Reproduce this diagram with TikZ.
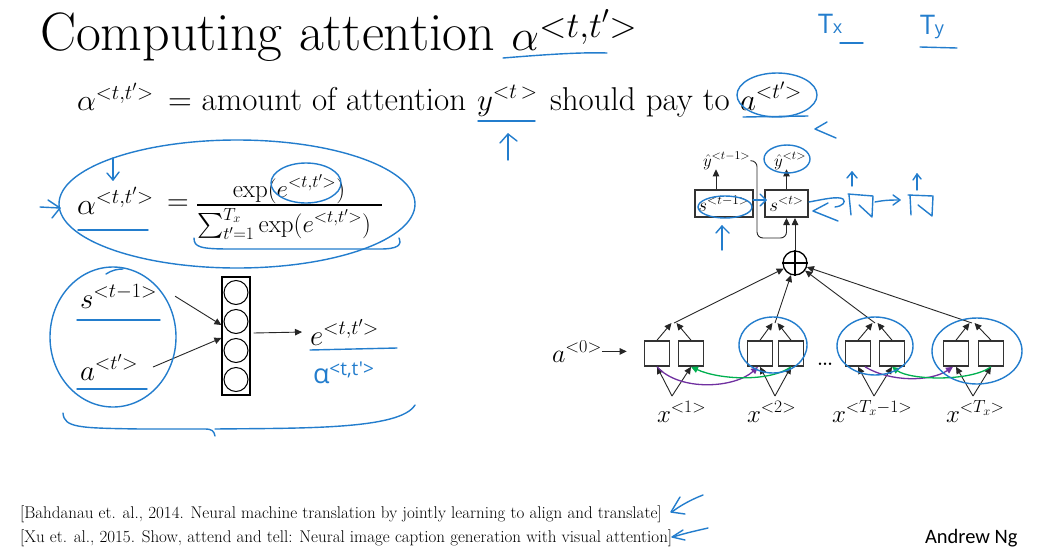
\RequirePackage{fix-cm}
\documentclass[tikz,border=0pt]{standalone}
\usepackage{amsmath}
\usepackage{fontspec}
\newfontfamily\andrewfont{Carlito}
\newfontfamily\handfont{Open Sans}
\usetikzlibrary{arrows.meta}
\definecolor{handblue}{RGB}{35,125,205}
\definecolor{arrpurple}{RGB}{112,48,160}
\definecolor{arrgreen}{RGB}{0,176,80}
\newcommand{\fsz}[1]{\fontsize{#1}{#1}\selectfont}
\begin{document}
\begin{tikzpicture}[x=1pt,y=-1pt,
  txt/.style={inner sep=0pt, outer sep=0pt},
  hb/.style={draw=handblue, line width=1.4pt, line cap=round, line join=round},
  ln/.style={draw=black!85, line width=0.9pt},
  tri/.style={-{Triangle[length=7pt,width=6.5pt]}},
  cell/.style={draw=black!80, line width=1.6pt, minimum width=25pt, minimum height=25pt, inner sep=0pt},
  neuron/.style={draw=black, line width=1pt, circle, minimum size=24pt, inner sep=0pt},
  sbox/.style={draw=black!80, line width=2pt, minimum height=27pt, inner sep=0pt},
]
\useasboundingbox[fill=white] (0,0) rectangle (1041,552);

% ---------- title and definition ----------
\node[txt, anchor=base west] (title) at (40,50) {\fsz{54}Computing attention \fsz{44}$\alpha$\raisebox{13pt}{\fsz{36}${<}t{,}t'{>}$}};
\node[txt, anchor=base west] (defal) at (77,110) {\fsz{30}$\alpha^{<t,t'>}$};
\node[txt, anchor=base west] (deftext) at (168,110) {\fsz{33}= amount of attention};
\node[txt, anchor=base west] (defy) at (477,110) {\fsz{31}$y^{<t\,>}$};
\node[txt, anchor=base west] (defpay) at (550,110) {\fsz{33}should pay to};
\node[txt, anchor=base west] (defa) at (740,110) {\fsz{31}$a^{<t'>}$};

% ---------- softmax formula ----------
\node[txt, anchor=base west] (fal) at (77,214) {\fsz{30}$\alpha^{<t,t'>}$};
\node[txt] (feq) at (178,205) {\fsz{30}$=$};
\node[txt, anchor=base] (fnum) at (289,197) {\fsz{25}$\exp(e^{<t,t'>})$};
\node[txt, anchor=base west] (fden) at (197,232) {\fsz{25}$\sum_{t'=1}^{T_x}\exp(e^{<t,t'>})$};
\draw[line width=1.1pt] (197,205) -- (382,205);

% ---------- small network ----------
\node[txt, anchor=base west] (sprev) at (80,308) {\fsz{29}$s^{<t-1>}$};
\node[txt, anchor=base west] (aat) at (80,380) {\fsz{29}$a^{<t'>}$};
\node[draw=black, line width=1.2pt, minimum width=28pt, minimum height=118pt, inner sep=0pt] (col) at (236,336) {};
\foreach \i/\yy in {1/292.5,2/321.5,3/350.5,4/379.5}
  \node[neuron] (n\i) at (236,\yy) {};
\node[txt, anchor=base west] (ett) at (310,345) {\fsz{29}$e^{<t,t'>}$};
\draw[ln, tri] ([xshift=18pt]sprev.east) -- ([yshift=11pt]col.west);
\draw[ln, tri] ([xshift=15pt]aat.east) -- ([yshift=-2pt]col.west);
\draw[ln, tri] ([xshift=3pt,yshift=3pt]col.east) -- ([xshift=-8pt]ett.west);

% ---------- attention model ----------
\foreach \n/\x in {p1a/657,p1b/691,p2a/760,p2b/791,p3a/858,p3b/892,p4a/956,p4b/991}
  \node[cell] (\n) at (\x,353.5) {};
\node[txt, anchor=base west] (a0) at (552,362) {\fsz{26}$a^{<0>}$};
\draw[ln, tri] (a0.east) -- ([xshift=-17pt]p1a.west |- a0.east);
\node[txt, anchor=base] (dots) at (825,365) {\fsz{30}\dots};

\node[txt, anchor=base west] (x1) at (657,422) {\fsz{25}$x^{<1>}$};
\node[txt, anchor=base west] (x2) at (747,422) {\fsz{25}$x^{<2>}$};
\node[txt, anchor=base west] (x3) at (832,422) {\fsz{25}$x^{<T_x-1>}$};
\node[txt, anchor=base west] (x4) at (946,422) {\fsz{25}$x^{<T_x>}$};

\coordinate (xa1) at (672,396);
\coordinate (xa2) at (775,396);
\coordinate (xa3) at (874,396);
\coordinate (xa4) at (973,396);
\foreach \k in {1,2,3,4}{
  \draw[ln, tri] (xa\k) -- (p\k a.south);
  \draw[ln, tri] (xa\k) -- (p\k b.south);
}

\coordinate (v1) at (674,323);
\coordinate (v2) at (775,323);
\coordinate (v3) at (875,323);
\coordinate (v4) at (972,323);
\node[circle, draw=black, line width=1.3pt, minimum size=24pt, inner sep=0pt] (plus) at (795,263) {};
\draw[line width=1.2pt] (plus.north) -- (plus.south) (plus.west) -- (plus.east);
\foreach \k in {1,2,3,4}{
  \draw[ln, tri] (p\k a.north) -- ([xshift=-2.5pt]v\k);
  \draw[ln, tri] (p\k b.north) -- ([xshift=2.5pt]v\k);
  \draw[ln, tri] (v\k) -- (plus);
}

% bidirectional links
\draw[arrpurple, line width=1.3pt, tri] (p1a.south) .. controls (680,392) and (735,388) .. ([xshift=-2pt]p2a.south);
\draw[arrgreen, line width=1.3pt, tri] (p2b.south) .. controls (770,382) and (720,380) .. (p1b.south);
\draw[arrpurple, line width=1.3pt, tri] ([xshift=7pt]p3a.south) .. controls (890,382) and (930,382) .. ([xshift=-3pt]p4a.south);
\draw[arrgreen, line width=1.3pt, tri] (p4b.south) .. controls (970,382) and (910,380) .. (p3b.south);

% decoder
\node[sbox, minimum width=58pt] (st1) at (724,203.5) {\fsz{19}$s^{<t-1>}$};
\node[sbox, minimum width=43pt] (st) at (786.5,203.5) {\fsz{19}$s^{<t>}$};
\node[txt, anchor=base west] (yh1) at (703,166) {\fsz{17}$\hat{y}^{<t-1>}$};
\node[txt, anchor=base west] (yh2) at (774,166) {\fsz{17}$\hat{y}^{<t>}$};
\draw[ln, tri] ([xshift=-8pt]st1.north) -- ([xshift=-8pt]st1.north |- yh1.south);
\draw[ln, tri] (st.north) -- (st.north |- yh2.south);
\draw[ln, tri, rounded corners=6pt] (yh1.east) -| (757,238) -| (st.south);
\draw[ln, tri] (plus.north) -- (plus.north |- st.south);

% ---------- references ----------
\node[txt, anchor=base west] (ref1) at (20,518) {\fsz{17}[Bahdanau et. al., 2014. Neural machine translation by jointly learning to align and translate]};
\node[txt, anchor=base west] (ref2) at (20,542) {\fsz{17}[Xu et. al., 2015. Show, attend and tell: Neural image caption generation with visual attention]};
\node[txt, anchor=base west] (ng) at (925,543) {\andrewfont\fsz{20.5}Andrew Ng};

% ---------- handwritten annotations ----------
% title underline
\draw[hb] (503,58) .. controls (540,55) and (580,52) .. (607,53);
% Tx, Ty
\node[txt, anchor=base west, text=handblue] (Tx) at (818,33) {\handfont\fsz{27}T\fsz{18}x};
\node[txt, anchor=base west, text=handblue] (Ty) at (920,34) {\handfont\fsz{27}T\fsz{18}y};
\draw[hb] (840,43) -- (863,43);
\draw[hb] (920,47) -- (957,48);
% y underline and arrow
\draw[hb] (478,121) -- (535,121);
\draw[hb] (508,160) -- (508,134);
\draw[hb] (500,143) -- (508,134) -- (517,141);
% a<t'> ellipse
\draw[hb] (777,95) ellipse [x radius=40pt, y radius=22pt];
\draw[hb] (743,117) -- (808,116);
\draw[hb] (827,122) -- (815,129) -- (836,138);
% big formula ellipse
\draw[hb] (237,204) ellipse [x radius=178pt, y radius=64pt];
\draw[hb] (40,207) -- (60,208);
\draw[hb] (48,200) -- (60,208) -- (52,218);
\draw[hb] (113,158) -- (113,180);
\draw[hb] (107,173) -- (113,180) -- (119,172);
\draw[hb] (78,230) -- (148,230);
\draw[hb] (306,183) ellipse [x radius=35pt, y radius=20pt];
\draw[hb] (194,238) .. controls (194,247) and (200,249) .. (230,249) -- (380,249) .. controls (398,249) and (402,245) .. (399,238);
% left ellipse around inputs
\draw[hb] (113,337) ellipse [x radius=63pt, y radius=70pt];
\draw[hb] (106,274) .. controls (112,270) and (118,269) .. (123,269);
\draw[hb] (77,320) -- (160,320);
\draw[hb] (77,389) -- (147,389);
\draw[hb] (310,350) -- (397,348);
\node[txt, anchor=base west, text=handblue] (halpha) at (313,383) {\handfont\fsz{27}α\raisebox{8pt}{\fsz{19}<t,t'>}};
% brace
\draw[hb] (63,413) .. controls (64,428) and (80,428) .. (140,429) -- (205,429) .. controls (212,429) and (214,431) .. (215,436);
\draw[hb] (215,429) .. controls (300,428) and (400,430) .. (415,405);
% decoder annotations
\draw[hb] (725,207) ellipse [x radius=27pt, y radius=11pt];
\draw[hb] (722,250) -- (722,226);
\draw[hb] (716,233) -- (722,226) -- (729,233);
\draw[hb] (753,200) -- (766,200);
\draw[hb] (760,194) -- (766,200) -- (760,206);
\draw[hb] (787,159) ellipse [x radius=23pt, y radius=14pt];
\draw[hb] (809,202) .. controls (825,199) and (838,196) .. (843,199) .. controls (846,202) and (843,206) .. (835,207);
\draw[hb] (828,203) -- (813,211) -- (838,221);
\draw[hb] (849,195) -- (851,215);
\draw[hb] (848,194) -- (873,196) -- (872,217) -- (859,205);
\draw[hb] (852,186) -- (852,172);
\draw[hb] (847,178) -- (852,172) -- (857,178);
\draw[hb] (875,202) .. controls (885,200) and (892,200) .. (900,200);
\draw[hb] (893,195) -- (900,200) -- (893,205);
\draw[hb] (910,195) -- (911,215);
\draw[hb] (908,195) -- (933,196) -- (932,216) -- (918,205);
\draw[hb] (917,190) -- (917,174);
\draw[hb] (913,180) -- (917,174) -- (921,179);
% pair ellipses
\draw[hb] (773,345) ellipse [x radius=34pt, y radius=28pt];
\draw[hb] (875,346) ellipse [x radius=38pt, y radius=29pt];
\draw[hb] (977,351) ellipse [x radius=45pt, y radius=33pt];
% reference arrows
\draw[hb] (703,495) .. controls (690,500) and (678,507) .. (672,512);
\draw[hb] (680,497) -- (671,512) -- (685,514);
\draw[hb] (708,528) .. controls (695,531) and (682,534) .. (673,537);
\draw[hb] (683,530) -- (672,537) -- (685,540);
\end{tikzpicture}
\end{document}
